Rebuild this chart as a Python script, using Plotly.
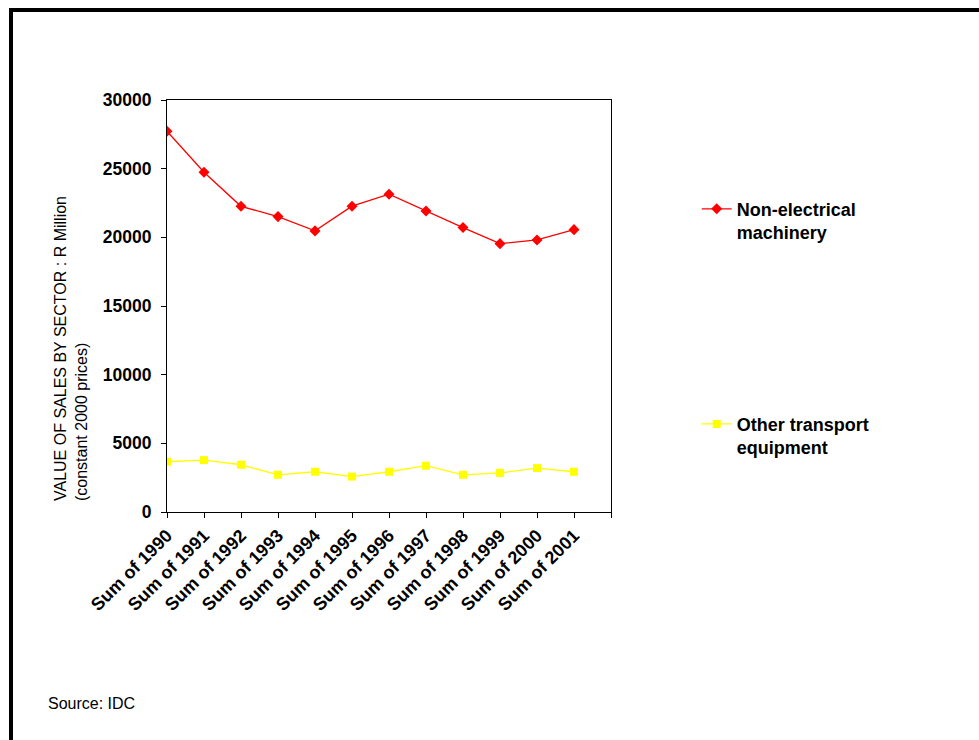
import plotly.graph_objects as go

# Sector sales, R million at constant 2000 prices
years = ["Sum of 1990", "Sum of 1991", "Sum of 1992", "Sum of 1993", "Sum of 1994", "Sum of 1995",
         "Sum of 1996", "Sum of 1997", "Sum of 1998", "Sum of 1999", "Sum of 2000", "Sum of 2001"]
non_electrical = [27720, 24740, 22260, 21510, 20470, 22270, 23140, 21920, 20710, 19540, 19810, 20560]
other_transport = [3660, 3780, 3440, 2710, 2930, 2580, 2930, 3370, 2710, 2850, 3200, 2930]
y_ticks = [0, 5000, 10000, 15000, 20000, 25000, 30000]

FONT = "Liberation Sans, Arial, sans-serif"
x_pos = list(range(len(years)))

fig = go.Figure()
fig.add_trace(go.Scatter(
    x=x_pos, y=non_electrical, name="Non-electrical<br>machinery",
    mode="lines+markers",
    line=dict(color="#ff0000", width=1.3),
    marker=dict(symbol="diamond", size=8.5, color="#ff0000"),
    legend="legend", showlegend=True,
))
fig.add_trace(go.Scatter(
    x=x_pos, y=other_transport, name="Other transport<br>equipment",
    mode="lines+markers",
    line=dict(color="#ffff00", width=1.3),
    marker=dict(symbol="square", size=8, color="#ffff00"),
    legend="legend2", showlegend=True,
))

legend_font = dict(family=FONT, size=18, color="black", weight="bold")

fig.update_layout(
    width=979, height=740,
    margin=dict(l=167, r=368, t=100, b=228),
    paper_bgcolor="white", plot_bgcolor="white",
    font=dict(family=FONT, color="black"),
    showlegend=True,
    legend=dict(x=1.193, y=0.78, xanchor="left", yanchor="top", valign="top",
                font=legend_font, bgcolor="rgba(0,0,0,0)"),
    legend2=dict(x=1.193, y=0.258, xanchor="left", yanchor="top", valign="top",
                 font=legend_font, bgcolor="rgba(0,0,0,0)"),
    xaxis=dict(
        range=[0, len(years)], tickmode="array",
        tickvals=list(range(len(years) + 1)), ticktext=years + [""],
        tickangle=-45, ticks="outside", ticklen=5, tickcolor="black",
        showline=True, linecolor="black", linewidth=1, mirror=True,
        showgrid=False, zeroline=False,
        tickfont=dict(family=FONT, size=18, color="black", weight="bold"),
    ),
    yaxis=dict(
        range=[0, 30000], tickmode="array", tickvals=y_ticks,
        ticktext=[str(v) for v in y_ticks],
        ticks="outside", ticklen=5, tickcolor="black", ticklabelstandoff=6,
        showline=True, linecolor="black", linewidth=1, mirror=True,
        showgrid=False, zeroline=False,
        tickfont=dict(family=FONT, size=17.5, color="black", weight="bold"),
    ),
    annotations=[
        dict(text="VALUE OF SALES BY SECTOR : R Million<br>(constant 2000 prices)",
             xref="paper", yref="paper", x=(71 - 167) / 444, y=(512 - 349) / 412,
             xanchor="center", yanchor="middle", textangle=-90, showarrow=False,
             align="left", font=dict(family=FONT, size=16, color="black")),
        dict(text="Source: IDC", xref="paper", yref="paper",
             x=(46 - 167) / 444, y=(512 - 703) / 412, xanchor="left", yanchor="middle",
             showarrow=False, font=dict(family=FONT, size=16, color="black")),
    ],
    shapes=[
        # page frame: top and left edges
        dict(type="line", xref="paper", yref="paper",
             x0=(11 - 167) / 444, x1=(1000 - 167) / 444,
             y0=(512 - 10) / 412, y1=(512 - 10) / 412,
             line=dict(color="black", width=4)),
        dict(type="line", xref="paper", yref="paper",
             x0=(11 - 167) / 444, x1=(11 - 167) / 444,
             y0=(512 - 8) / 412, y1=(512 - 760) / 412,
             line=dict(color="black", width=4)),
    ],
)

fig.write_html("out.html")
